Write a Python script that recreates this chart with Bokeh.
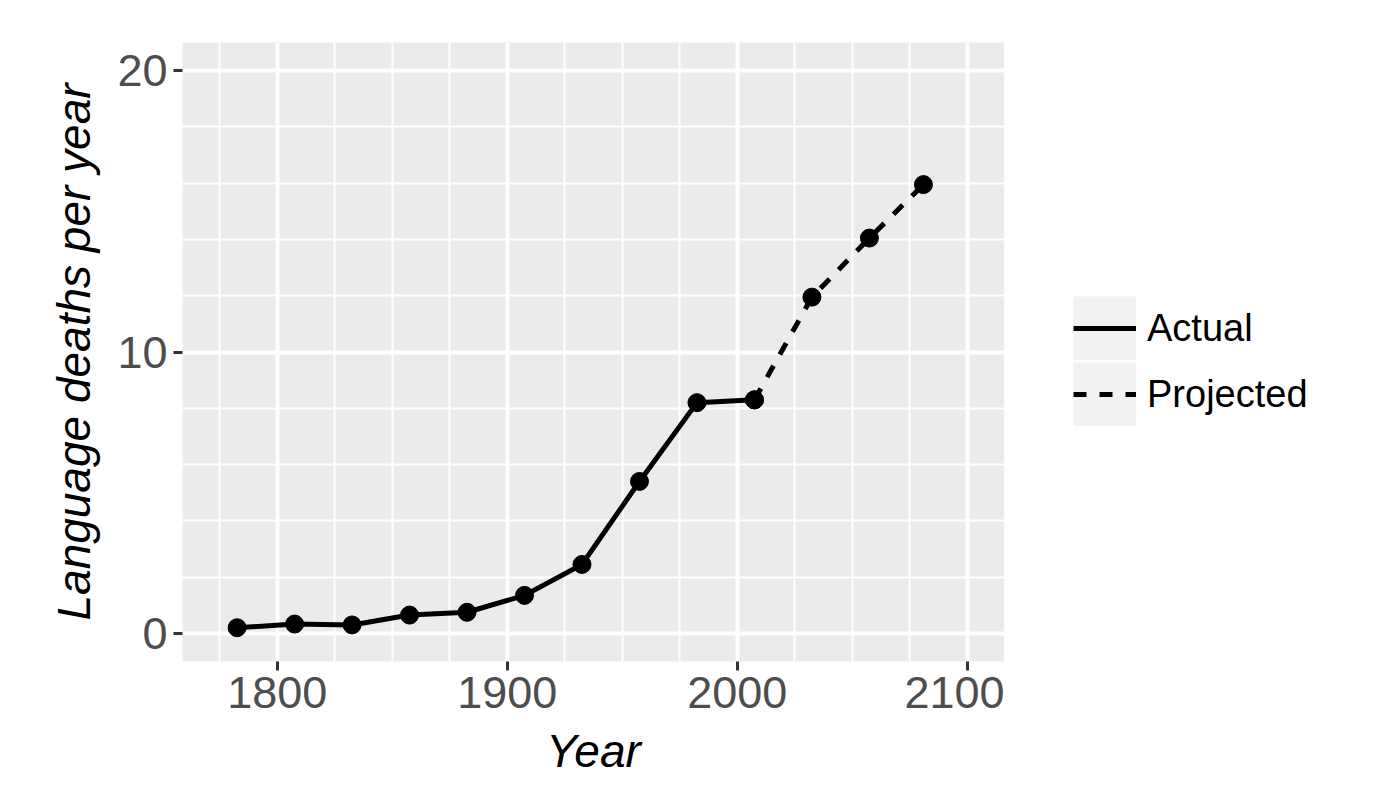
import math
from bokeh.plotting import figure
from bokeh.layouts import row
from bokeh.models import Range1d, FixedTicker, Legend, LegendItem
from bokeh.embed import file_html
from bokeh.resources import INLINE

# ---- data ----
actual_years = [1782.5, 1807.5, 1832.5, 1857.5, 1882.5, 1907.5, 1932.5, 1957.5, 1982.5, 2007.5]
actual_deaths = [0.2, 0.33, 0.3, 0.65, 0.75, 1.35, 2.45, 5.4, 8.2, 8.3]
projected_years = [2007.5, 2032.5, 2057.5, 2081]
projected_deaths = [8.3, 11.95, 14.05, 15.95]

x_major = [1800, 1900, 2000, 2100]
x_minor = [1775, 1825, 1850, 1875, 1925, 1950, 1975, 2025, 2050, 2075]
y_major = [0, 10, 20]
y_minor = [2, 4, 6, 8, 12, 14, 16, 18]

series_labels = ["Actual", "Projected"]
x_title = "Year"
y_title = "Language deaths per year"

LINE_W = 5
DASH = "13 13"

p = figure(width=1004, height=790,
           x_range=Range1d(1758.75, 2116.25), y_range=Range1d(-1, 21),
           output_backend="svg", toolbar_location=None,
           min_border_left=182, min_border_right=0,
           min_border_top=42, min_border_bottom=129)
p.background_fill_color = "#EBEBEB"
p.border_fill_color = "white"
p.outline_line_color = None

p.xaxis.ticker = FixedTicker(ticks=x_major, minor_ticks=x_minor)
p.yaxis.ticker = FixedTicker(ticks=y_major, minor_ticks=y_minor)

for g in (p.xgrid, p.ygrid):
    g.grid_line_color = "white"
    g.grid_line_width = 4
    g.minor_grid_line_color = "white"
    g.minor_grid_line_width = 2

for ax in (p.xaxis, p.yaxis):
    ax.axis_line_color = None
    ax.major_tick_line_color = "#333333"
    ax.major_tick_line_width = 3
    ax.major_tick_out = 9
    ax.major_tick_in = 0
    ax.minor_tick_line_color = None
    ax.major_label_text_font = "Liberation Sans"
    ax.major_label_text_font_size = "45px"
    ax.major_label_text_color = "#4D4D4D"
    ax.major_label_standoff = 6
    ax.axis_label_text_font = "Liberation Sans"
    ax.axis_label_text_font_size = "46px"
    ax.axis_label_text_font_style = "italic"
    ax.axis_label_text_color = "black"
    ax.axis_label_standoff = 14

p.xaxis.axis_label = x_title
p.yaxis.axis_label = y_title

p.line(actual_years, actual_deaths, line_color="black", line_width=LINE_W)
p.line(projected_years, projected_deaths, line_color="black",
       line_width=LINE_W, line_dash=DASH)
p.scatter(actual_years, actual_deaths, size=18, color="black")
p.scatter(projected_years, projected_deaths, size=18, color="black")

# ---- legend panel (ggplot-style, right of the plot) ----
lg = figure(width=358, height=790, x_range=Range1d(0, 1), y_range=Range1d(0, 1),
            output_backend="svg", toolbar_location=None,
            x_axis_location=None, y_axis_location=None,
            min_border_left=0, min_border_right=0, min_border_top=0, min_border_bottom=0)
lg.grid.visible = False
lg.outline_line_color = None
lg.background_fill_color = "white"
lg.border_fill_color = "white"

nan = float("nan")
key_renderers = []
for dash in ("solid", DASH):
    bg = lg.line(x=[nan, nan], y=[nan, nan], line_color="#F2F2F2", line_width=64, line_cap="butt")
    ln = lg.line(x=[nan, nan], y=[nan, nan], line_color="black", line_width=LINE_W, line_dash=dash)
    key_renderers.append([bg, ln])

legend = Legend(items=[LegendItem(label=lab, renderers=r) for lab, r in zip(series_labels, key_renderers)],
                location=(69, 235), padding=0, margin=0, spacing=2,
                glyph_width=63, glyph_height=64, label_standoff=11,
                label_text_font="Liberation Sans", label_text_font_size="38px",
                label_text_color="black",
                border_line_color=None, background_fill_alpha=0)
lg.add_layout(legend, "center")

layout = row(p, lg, spacing=0)
open("out.html", "w").write(file_html(layout, INLINE))
